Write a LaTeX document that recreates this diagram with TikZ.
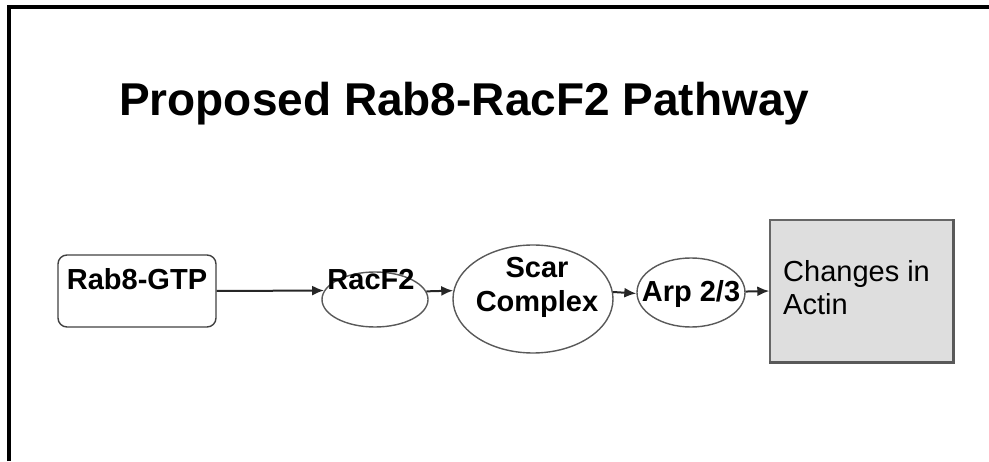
\documentclass[tikz,border=0pt]{standalone}
\usepackage{fontspec}
\setmainfont{Liberation Sans}
\usetikzlibrary{shapes.geometric,arrows.meta}
\begin{document}
\begin{tikzpicture}[x=1pt,y=1pt,
  flow/.style={draw=black!85,line width=2pt,-{Latex[length=12pt,width=10pt]}},
  molecule/.style={ellipse,draw=black!65,line width=1.4pt,inner sep=0pt},
  tag/.style={inner sep=0pt,font=\fontsize{29}{34}\selectfont\bfseries}]
% Frame and title
\useasboundingbox (0,0) rectangle (989,461);
\draw[line width=4pt] (9,0) -- (9,454) -- (989,454);
\node[anchor=base west,inner sep=0pt,font=\fontsize{46}{50}\selectfont\bfseries] (title) at (119,345) {Proposed Rab8-RacF2 Pathway};
% Pathway
\node[draw=black!75,line width=1.4pt,rounded corners=9pt,minimum width=158pt,
  inner xsep=0pt,inner ysep=14pt,text height=21pt,text depth=23pt,
  anchor=base,font=\fontsize{29}{34}\selectfont\bfseries] (rab) at (137,171) {Rab8-GTP};
\node[molecule,minimum width=106pt,minimum height=55pt] (racf) at (375,161.5) {};
\node[tag,anchor=base] (racf text) at (371,171) {RacF2};
\node[molecule,minimum width=160pt,minimum height=108pt] (scar) at (533,162) {};
\node[tag,align=center] (scar text) at (537,173.5) {Scar\\Complex};
\node[molecule,minimum width=108pt,minimum height=69pt] (arp) at (691,168.5) {};
\node[tag,anchor=base] (arp text) at (691,159) {Arp 2/3};
\node[draw=black!60,fill=black!13,line width=1.4pt,minimum width=183pt,minimum height=142pt] (actin) at (861.5,170) {};
\draw[black!65,line width=3pt] (actin.north east) -- (actin.south east) -- (actin.south west);
\node[anchor=north west,inner sep=0pt,align=left,font=\fontsize{29}{33}\selectfont] (actin text) at (783,201) {Changes in\\Actin};
% Arrows
\draw[flow] (rab.east) -- (racf.170.4);
\draw[flow] (racf.9.6) -- (scar.174.2);
\draw[flow] (scar.5.8) -- (arp.181.6);
\draw[flow] (arp.1.6) -- (actin.west);
\end{tikzpicture}
\end{document}
